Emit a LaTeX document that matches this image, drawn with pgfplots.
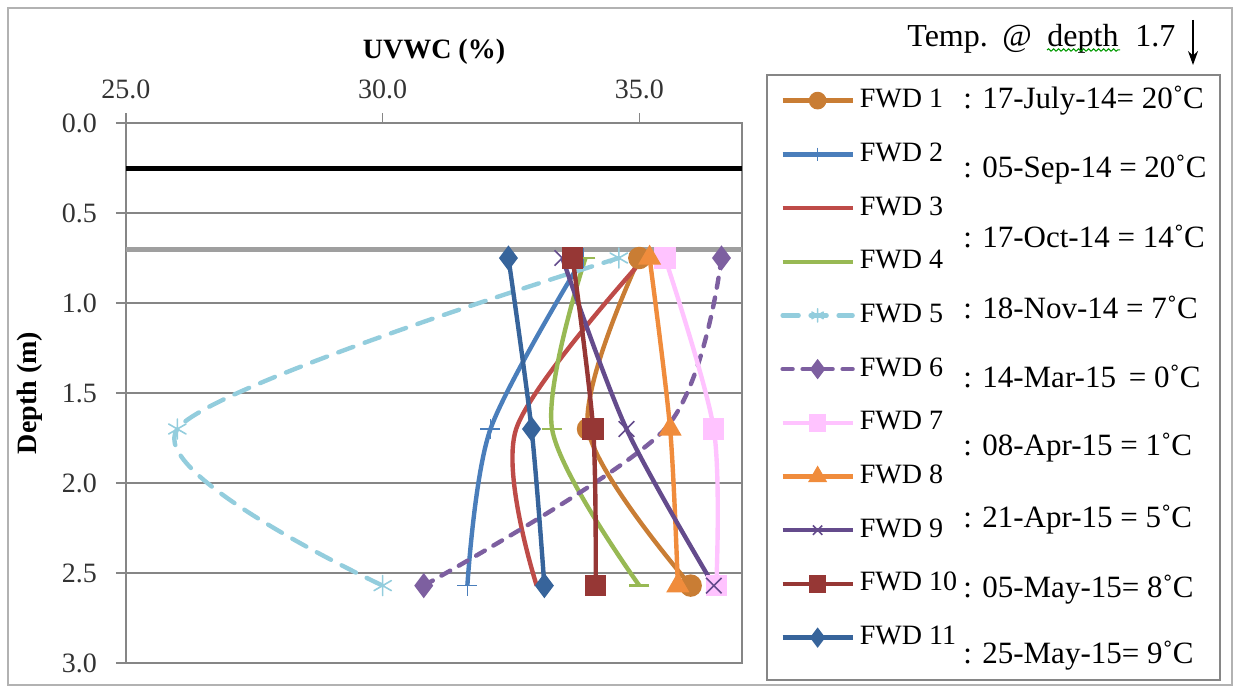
\documentclass[border=0pt]{standalone}
\usepackage{fontspec}
\setmainfont{Liberation Serif}
\usepackage{pgfplots}
\pgfplotsset{compat=1.18}
\usetikzlibrary{decorations.pathmorphing, arrows.meta}

\definecolor{fwdA}{RGB}{201,125,52}
\definecolor{fwdB}{RGB}{74,126,187}
\definecolor{fwdC}{RGB}{190,75,72}
\definecolor{fwdD}{RGB}{152,185,84}
\definecolor{fwdE}{RGB}{147,205,221}
\definecolor{fwdF}{RGB}{125,95,160}
\definecolor{fwdG}{RGB}{255,195,255}
\definecolor{fwdH}{RGB}{240,140,60}
\definecolor{fwdI}{RGB}{100,75,140}
\definecolor{fwdJ}{RGB}{150,55,53}
\definecolor{fwdK}{RGB}{55,100,155}
\definecolor{gridc}{RGB}{134,134,134}

\begin{document}
\begin{tikzpicture}
\useasboundingbox (-63pt,-13.5pt) rectangle (554.5pt,331.5pt);
\draw[gray!60, line width=0.75pt] (-59pt,-11pt) rectangle (553pt,327.5pt);
\draw[gridc, line width=1pt] (320.5pt,-8.5pt) rectangle (547pt,294pt);
\begin{axis}[
  at={(0,0)}, anchor=south west,
  scale only axis, width=308pt, height=270pt,
  xmin=25, xmax=37, ymin=0, ymax=3,
  y dir=reverse,
  xtick={25,30,35}, ytick={0,0.5,1,1.5,2,2.5,3},
  xtick pos=right, xticklabel pos=right,
  ytick pos=left,
  tick align=outside,
  major tick length=5pt,
  tick style={gridc, line width=0.75pt},
  axis line style={gridc, line width=0.75pt},
  ymajorgrids, grid style={gridc, line width=0.75pt},
  ticklabel style={font=\fontsize{14}{16}\selectfont, text=black!80},
  xticklabel style={yshift=3.5pt},
  yticklabel style={xshift=-6pt},
  /pgf/number format/fixed, /pgf/number format/fixed zerofill,
  /pgf/number format/precision=1, /pgf/number format/assume math mode=true,
  xlabel={\textbf{UVWC (\%)}},
  xlabel style={at={(axis description cs:0.5,1.1315)}, anchor=center, font=\fontsize{14}{16}\selectfont},
  ylabel={\textbf{Depth (m)}},
  ylabel style={at={(axis description cs:-0.1558,0.5)}, anchor=center, font=\fontsize{14}{16}\selectfont},
  legend cell align=left,
  legend style={at={(1.0617,1.07)}, anchor=north west, draw=none, fill=none,
    inner sep=0pt, row sep=11.85pt, column sep=2.5pt,
    nodes={inner sep=0pt, text height=11pt, text depth=4pt, anchor=west,
      font=\fontsize{14}{16}\selectfont}},
  legend image code/.code={\draw[mark repeat=2,mark phase=2, mark size=3.3pt] plot coordinates {(0pt,0pt)(17.5pt,0pt)(35pt,0pt)};},
  every axis plot/.append style={line width=2.2pt, smooth},
]
\addplot[black, line width=2.5pt, forget plot, mark=none] coordinates {(25,0.25) (37,0.25)};
\addplot[gray!75, line width=2.5pt, forget plot, mark=none] coordinates {(25,0.7) (37,0.7)};

\addplot[fwdA, mark=*, mark size=4.5pt, mark options={solid, fill=fwdA}] coordinates {(35.0,0.75) (34.0,1.7) (36.0,2.57)};
\addplot[fwdB, mark=+, mark size=5pt, mark options={solid, line width=0.8pt}] coordinates {(33.9,0.75) (32.1,1.7) (31.65,2.57)};
\addplot[fwdC, mark=none] coordinates {(35.1,0.75) (32.6,1.7) (33.0,2.57)};
\addplot[fwdD, mark=-, mark size=5pt, mark options={solid, line width=1.2pt}] coordinates {(33.95,0.75) (33.3,1.7) (35.0,2.57)};
\addplot[fwdE, dash pattern=on 8pt off 6pt, line cap=round, mark=asterisk, mark size=5pt, mark options={solid, line width=0.8pt}] coordinates {(34.6,0.75) (26.0,1.7) (30.0,2.57)};
\addplot[fwdF, dash pattern=on 5pt off 5pt, line cap=round, mark=diamond*, mark indices={1,3}, mark size=4.5pt, mark options={solid, fill=fwdF},
  legend image code/.code={\draw[mark indices={2}, mark size=3.3pt] plot coordinates {(0pt,0pt)(17.5pt,0pt)(35pt,0pt)};}] coordinates {(36.6,0.75) (35.5,1.7) (30.8,2.57)};
\addplot[fwdG, mark=square*, mark size=4.25pt, mark options={solid, fill=fwdG}] coordinates {(35.5,0.75) (36.45,1.7) (36.5,2.57)};
\addplot[fwdH, mark=triangle*, mark size=4.5pt, mark options={solid, fill=fwdH}] coordinates {(35.2,0.75) (35.6,1.7) (35.75,2.57)};
\addplot[fwdI, mark=x, mark size=5.5pt, mark options={solid, line width=0.8pt}] coordinates {(33.5,0.75) (34.75,1.7) (36.45,2.57)};
\addplot[fwdJ, mark=square*, mark size=4.25pt, mark options={solid, fill=fwdJ}] coordinates {(33.7,0.75) (34.1,1.7) (34.15,2.57)};
\addplot[fwdK, mark=diamond*, mark size=4.5pt, mark options={solid, fill=fwdK}] coordinates {(32.45,0.75) (32.9,1.7) (33.15,2.57)};
\legend{FWD 1, FWD 2, FWD 3, FWD 4, FWD 5, FWD 6, FWD 7, FWD 8, FWD 9, FWD 10, FWD 11}
\end{axis}

\begin{scope}[every node/.style={anchor=base west, inner sep=0pt, font=\fontsize{15.5}{18}\selectfont}]
\node at (418.5pt,277.4pt) {: 17-July-14= 20˚C};
\node at (418.5pt,242.9pt) {: 05-Sep-14 = 20˚C};
\node at (418.5pt,207.9pt) {: 17-Oct-14 = 14˚C};
\node at (418.5pt,172.4pt) {: 18-Nov-14 = 7˚C};
\node at (418.5pt,137.9pt) {: 14-Mar-15 \,= 0˚C};
\node at (418.5pt,103.9pt) {: 08-Apr-15 = 1˚C};
\node at (418.5pt,67.9pt) {: 21-Apr-15 = 5˚C};
\node at (418.5pt,32.9pt) {: 05-May-15= 8˚C};
\node at (418.5pt,-0.1pt) {: 25-May-15= 9˚C};
\end{scope}

\begin{scope}[every node/.style={anchor=base west, inner sep=0pt, font=\fontsize{16}{18}\selectfont}]
\node at (390.5pt,308pt) {Temp.};
\node at (438pt,308pt) {@};
\node (dp) at (460.5pt,308pt) {depth};
\node at (504.5pt,308pt) {1.7};
\end{scope}
\draw[green!60!black, line width=0.5pt, decorate, decoration={snake, amplitude=0.6pt, segment length=2.5pt}] (460.5pt,306.5pt) -- (497pt,306.5pt);
\draw[-{Stealth[length=7pt, width=5pt]}, line width=0.8pt] (533.5pt,321.5pt) -- (533.5pt,299pt);
\end{tikzpicture}
\end{document}
